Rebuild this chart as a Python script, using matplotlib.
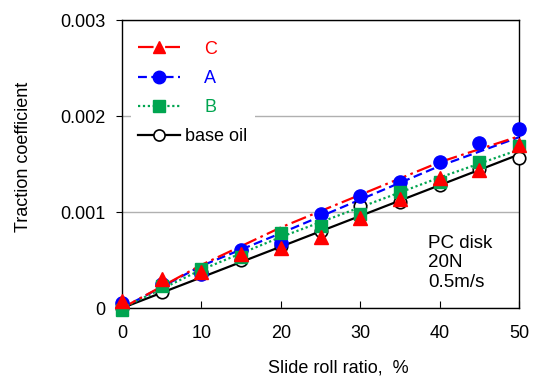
import matplotlib
matplotlib.use("Agg")
import matplotlib.pyplot as plt

plt.rcParams["font.family"] = ["Liberation Sans", "DejaVu Sans"]

# Mesures (points)
ratio = [0, 5, 10, 15, 20, 25, 30, 35, 40, 45, 50]
coef_c = [0.00007, 0.00030, 0.00038, 0.00056, 0.00063, 0.00074, 0.00094, 0.00114, 0.00135, 0.00144, 0.00170]
coef_a = [0.00005, 0.00025, 0.00035, 0.00060, 0.00068, 0.00098, 0.00117, 0.00131, 0.00152, 0.00172, 0.00186]
coef_b = [-0.00002, 0.00023, 0.00041, 0.00053, 0.00078, 0.00085, 0.00098, 0.00121, 0.00131, 0.00152, 0.00169]
coef_base = [0.0, 0.00017, 0.00038, 0.00050, 0.00065, 0.00080, 0.00106, 0.00110, 0.00128, 0.00145, 0.00156]

# Courbes de tendance
trend_x = [0, 10, 20, 30, 40, 50]
trend_c = [0.0, 0.00045, 0.00084, 0.00118, 0.00152, 0.00179]
trend_a = [0.0, 0.00044, 0.00078, 0.00113, 0.00148, 0.00178]
trend_b = [0.0, 0.00040, 0.00074, 0.00105, 0.00136, 0.00165]
trend_base = [0.0, 0.00032, 0.00064, 0.00096, 0.00128, 0.00160]

red = "#ff0000"
blue = "#0000ff"
green = "#00a550"

fig = plt.figure(figsize=(5.33, 3.78), dpi=100)
ax = fig.add_axes([0.229, 0.185, 0.745, 0.762])

ls_c = (0, (7, 2, 1.2, 2))
ls_a = (0, (4, 2))
ls_b = (0, (1, 1.2))

# lignes de tendance
ax.plot(trend_x, trend_base, color="black", lw=1.6, zorder=3)
ax.plot(trend_x, trend_a, color=blue, lw=1.6, ls=ls_a, zorder=3)
ax.plot(trend_x, trend_b, color=green, lw=1.6, ls=ls_b, zorder=3)
ax.plot(trend_x, trend_c, color=red, lw=1.6, ls=ls_c, zorder=3)

# points
ax.plot(ratio, coef_base, ls="none", marker="o", ms=9, mfc="white", mec="black", mew=1.2, zorder=4, clip_on=False)
ax.plot(ratio, coef_a, ls="none", marker="o", ms=9.5, color=blue, zorder=5, clip_on=False)
ax.plot(ratio, coef_b, ls="none", marker="s", ms=8.5, color=green, zorder=6, clip_on=False)
ax.plot(ratio, coef_c, ls="none", marker="^", ms=9.5, color=red, zorder=7, clip_on=False)

# poignées de légende
h_c, = ax.plot([], [], color=red, lw=1.6, ls=ls_c, marker="^", ms=9, label="    C")
h_a, = ax.plot([], [], color=blue, lw=1.6, ls=ls_a, marker="o", ms=9, label="    A")
h_b, = ax.plot([], [], color=green, lw=1.6, ls=ls_b, marker="s", ms=8, label="    B")
h_o, = ax.plot([], [], color="black", lw=1.6, marker="o", ms=8, mfc="white", mew=1.2, label="base oil")
leg = ax.legend(handles=[h_c, h_a, h_b, h_o], loc="upper left", fontsize=13,
                labelcolor="linecolor", frameon=True, facecolor="white", edgecolor="none",
                framealpha=1, fancybox=False, handlelength=2.3, handletextpad=0.3,
                labelspacing=0.68, borderpad=0.4, bbox_to_anchor=(0.0, 0.985))
leg.set_zorder(2)

ax.text(0.77, 0.255, "PC disk\n20N\n0.5m/s", transform=ax.transAxes, fontsize=13.5,
        va="top", ha="left", linespacing=1.2)

ax.set_xlim(0, 50)
ax.set_ylim(0, 0.003)
ax.set_xticks([0, 10, 20, 30, 40, 50])
ax.set_yticks([0, 0.001, 0.002, 0.003])
ax.set_yticklabels(["0", "0.001", "0.002", "0.003"])
ax.yaxis.grid(True, color="#b0b0b0", lw=1.0, zorder=1)
ax.set_axisbelow(True)
ax.tick_params(axis="x", direction="in", length=5, pad=12, labelsize=13)
ax.tick_params(axis="y", direction="out", length=4, pad=8, labelsize=13)
for s in ax.spines.values():
    s.set_linewidth(1.0)

ax.set_xlabel("Slide roll ratio,  %", fontsize=13, va="center")
ax.xaxis.set_label_coords(0.544, -0.208)
ax.set_ylabel("Traction coefficient", fontsize=13, va="center")
ax.yaxis.set_label_coords(-0.247, 0.524)

fig.savefig("out.png", dpi=100)
